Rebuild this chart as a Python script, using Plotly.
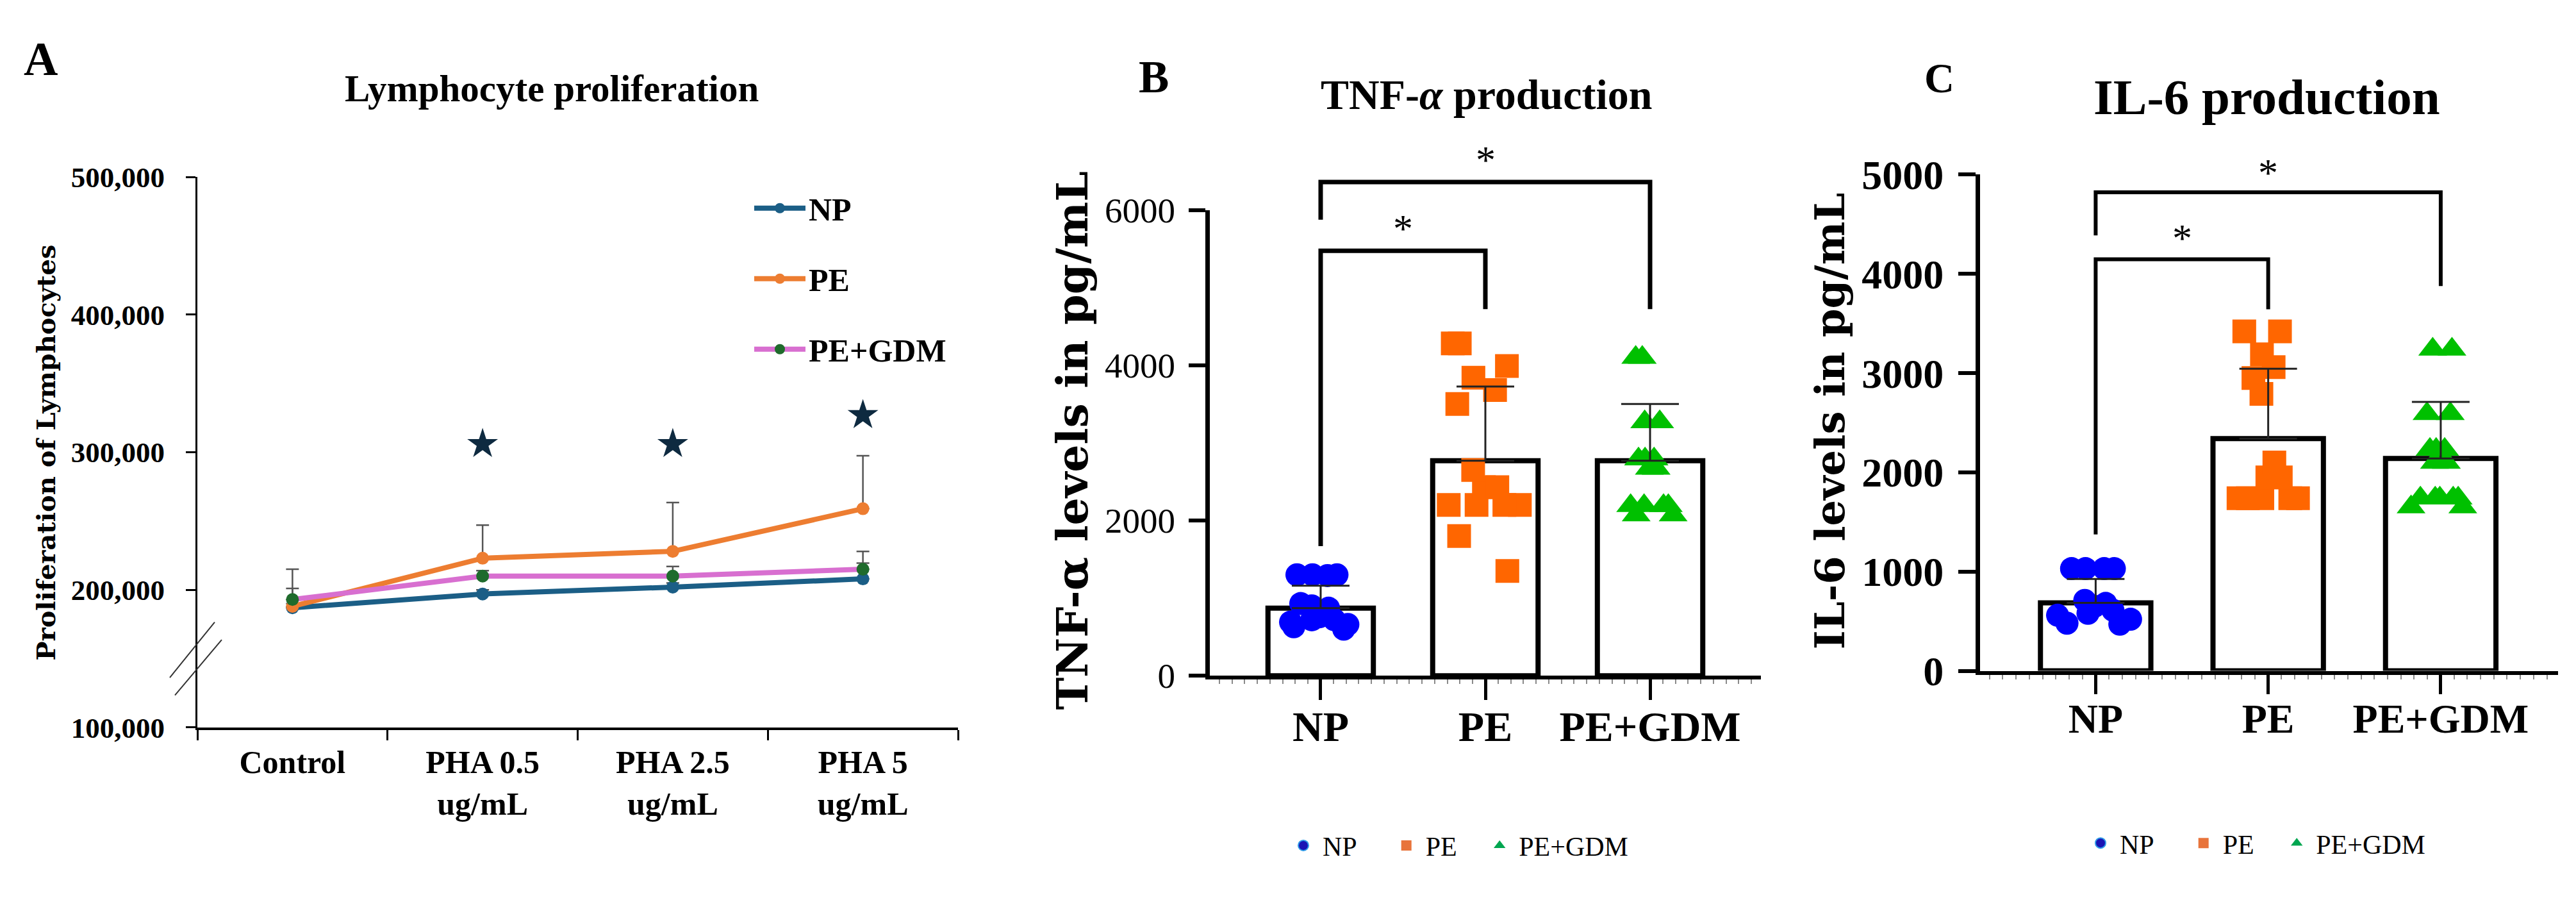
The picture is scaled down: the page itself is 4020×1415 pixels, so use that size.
import plotly.graph_objects as go

W, H = 4020, 1415
SERIF = "Liberation Serif"
WIDE = "DejaVu Serif"
NBSP = "\u00a0"

# ---------------- Panel A : lymphocyte proliferation ----------------
a_categories = ["Control", "PHA 0.5<br>ug/mL", "PHA 2.5<br>ug/mL", "PHA 5<br>ug/mL"]
a_np = [187000, 197000, 202000, 208000]
a_np_sd = [3000, 3000, 3000, 11500]
a_pe = [188000, 223000, 228000, 259000]
a_pe_sd = [27000, 24000, 35500, 38500]
a_gdm = [193000, 210000, 210000, 215000]
a_gdm_sd = [8000, 4000, 7000, 13000]
a_star_categories = ["PHA 0.5<br>ug/mL", "PHA 2.5<br>ug/mL", "PHA 5<br>ug/mL"]
a_star_values = [306000, 306000, 327000]
a_yticks = [100000, 200000, 300000, 400000, 500000]

# ---------------- Panels B and C ----------------
groups = ["NP", "PE", "PE+GDM"]

tnf_mean = [870, 2770, 2770]
tnf_sd = [290, 955, 730]
tnf_np = [1300, 1300, 1290, 1300, 930, 900, 870, 760, 720, 690, 660, 630, 600, 720]
tnf_pe = [4280, 4280, 3990, 3840, 3680, 3500, 2650, 2430, 2430, 2200, 2200, 2200, 2200, 1800, 1350]
tnf_gdm = [4100, 4100, 3270, 3270, 2790, 2790, 2790, 2670, 2670, 2190, 2190, 2190, 2190, 2070, 2070]
tnf_yticks = [0, 2000, 4000, 6000]
tnf_bracket_pairs = [(0, 1), (0, 2)]
tnf_bracket_top = [5475, 6360]
tnf_bracket_left_end = [1670, 5875]
tnf_bracket_right_end = [4722, 4722]
tnf_star_values = [5843, 6722]

il6_mean = [685, 2340, 2140]
il6_sd = [240, 705, 570]
il6_np = [1030, 1030, 1030, 1030, 710, 680, 650, 610, 580, 520, 480, 470, 560]
il6_pe = [3420, 3420, 3190, 3060, 2950, 2790, 2100, 1950, 1950, 1740, 1740, 1740, 1740, 1740]
il6_gdm = [3240, 3240, 2590, 2590, 2230, 2230, 2230, 2100, 2100, 1740, 1740, 1740, 1740, 1740, 1650, 1650]
il6_yticks = [0, 1000, 2000, 3000, 4000, 5000]
il6_bracket_pairs = [(0, 1), (0, 2)]
il6_bracket_top = [4147, 4822]
il6_bracket_left_end = [1374, 4387]
il6_bracket_right_end = [3644, 3877]
il6_star_values = [4423, 5080]

# ---------------- styling ----------------
NP_LINE = "#1b5e86"
PE_LINE = "#ed7d31"
GDM_LINE = "#d86fd0"
GDM_MARK = "#1f6b2c"
STAR = "#0e2a40"
PT_COLORS = ["#0000ff", "#ff6600", "#00c000"]
PT_SYMBOLS = ["circle", "square", "triangle-up"]
PT_SIZES = [36, 37, 39]
LEG_COLORS = ["#1a14b4", "#e8743b", "#00a650"]
LEG_PAD = [4, 3, 0]   # trailing spaces that widen the legend entries

pos = list(range(len(groups)))   # x position of each group on the B / C axes


def fx(p):
    return p / W


def fy(p):
    return 1 - p / H


fig = go.Figure()

# ---- Panel A traces
for name, vals, sd, lc, mc in [
    ("NP", a_np, a_np_sd, NP_LINE, NP_LINE),
    ("PE", a_pe, a_pe_sd, PE_LINE, PE_LINE),
    ("PE+GDM", a_gdm, a_gdm_sd, GDM_LINE, GDM_MARK),
]:
    fig.add_trace(go.Scatter(
        x=a_categories, y=vals, name=name, mode="lines+markers",
        line=dict(color=lc, width=8), marker=dict(color=mc, size=20),
        error_y=dict(type="data", array=sd, arrayminus=[0] * len(sd), symmetric=False,
                     color="#555555", thickness=2.5, width=10),
        xaxis="x", yaxis="y", legend="legend", legendgroup=name))

fig.add_trace(go.Scatter(
    x=a_star_categories, y=a_star_values, mode="markers",
    marker=dict(symbol="star", size=36, color=STAR), showlegend=False,
    xaxis="x", yaxis="y"))

annotations = []


def cytokine_panel(xa, ya, xb, yb, means, sds, pts, pairs, tops, lefts, rights, stars,
                   legend_name, bracket_w):
    fig.add_trace(go.Bar(
        x=pos, y=means, width=0.64,
        marker=dict(color="white", line=dict(color="black", width=8)),
        showlegend=False, xaxis=xa, yaxis=ya))
    for p, g, vals, sym, col, sz in zip(pos, groups, pts, PT_SYMBOLS, PT_COLORS, PT_SIZES):
        fig.add_trace(go.Box(
            y=vals, x0=p, name=g, boxpoints="all", jitter=0.9, pointpos=0, width=0.6,
            fillcolor="rgba(0,0,0,0)", line=dict(width=0, color="rgba(0,0,0,0)"),
            whiskerwidth=0, marker=dict(symbol=sym, color=col, size=sz),
            showlegend=False, hoverinfo="skip", xaxis=xa, yaxis=ya))
    fig.add_trace(go.Scatter(
        x=pos, y=means, mode="markers", marker=dict(size=1, color="rgba(0,0,0,0)"),
        error_y=dict(type="data", array=sds, arrayminus=[0] * len(sds), symmetric=False,
                     color="#222222", thickness=3, width=45),
        showlegend=False, hoverinfo="skip", xaxis=xa, yaxis=ya))
    for g, sym, col, pad in zip(groups, PT_SYMBOLS, LEG_COLORS, LEG_PAD):
        mk = dict(symbol=sym, color=col, size=16)
        if sym == "circle":
            mk["line"] = dict(color="#2f9be8", width=2)
        fig.add_trace(go.Scatter(
            x=[None], y=[None], mode="markers", name=g + NBSP * pad, marker=mk,
            legend=legend_name, xaxis=xa, yaxis=ya))
    for (i, j), top, le, re, st in zip(pairs, tops, lefts, rights, stars):
        fig.add_trace(go.Scatter(
            x=[pos[i], pos[i], pos[j], pos[j]], y=[le, top, top, re],
            mode="lines", line=dict(color="black", width=bracket_w),
            showlegend=False, hoverinfo="skip", xaxis=xb, yaxis=yb))
        annotations.append(dict(
            x=(pos[i] + pos[j]) / 2, y=st, xref=xb, yref=yb, text="*", showarrow=False,
            yshift=-9, font=dict(family=SERIF, size=62, color="black")))


cytokine_panel("x2", "y2", "x4", "y4", tnf_mean, tnf_sd, [tnf_np, tnf_pe, tnf_gdm],
               tnf_bracket_pairs, tnf_bracket_top, tnf_bracket_left_end,
               tnf_bracket_right_end, tnf_star_values, "legend2", 7)
cytokine_panel("x3", "y3", "x5", "y5", il6_mean, il6_sd, [il6_np, il6_pe, il6_gdm],
               il6_bracket_pairs, il6_bracket_top, il6_bracket_left_end,
               il6_bracket_right_end, il6_star_values, "legend3", 6)

# ---------------- geometry (px) ----------------
A_X0, A_X1, A_TOP, A_BOT = 308, 1495, 254, 1158
B_X0, B_X1, B_TOP, B_BOT, B_BR = 1888, 2748, 308, 1073, 120
C_X0, C_X1, C_TOP, C_BOT, C_BR = 3090, 3992, 250, 1065, 150
B_XR = [-0.673, 2.673]
C_XR = [-0.67, 2.68]

tnf_max = tnf_yticks[-1]
il6_max = il6_yticks[-1]

axis_common = dict(showgrid=False, zeroline=False, showline=True, linecolor="black",
                   ticks="outside", tickcolor="black")
minor_x = dict(ticks="outside", ticklen=7, tickwidth=2, tickcolor="#8a8a8a",
               tick0=0, dtick=1 / 13, showgrid=False)

layout = dict(
    width=W, height=H, margin=dict(l=0, r=0, t=0, b=0),
    paper_bgcolor="white", plot_bgcolor="rgba(0,0,0,0)",
    boxmode="overlay", barmode="overlay",
    font=dict(family=SERIF, color="black"),
    xaxis=dict(axis_common, domain=[fx(A_X0), fx(A_X1)], anchor="y", type="category",
               categoryorder="array", categoryarray=a_categories, range=[-0.5, 3.5],
               tickson="boundaries", ticklen=16, tickwidth=3, linewidth=4,
               tickfont=dict(family=SERIF, size=50, weight="bold"), ticklabelstandoff=7),
    yaxis=dict(axis_common, domain=[fy(A_BOT), fy(A_TOP)], anchor="x",
               range=[a_yticks[0], a_yticks[-1]], tickvals=a_yticks, tickformat=",d",
               ticklen=15, tickwidth=3, linewidth=3,
               tickfont=dict(family=SERIF, size=45, weight="bold"), ticklabelstandoff=24),
    xaxis2=dict(axis_common, domain=[fx(B_X0), fx(B_X1)], anchor="y2", type="linear",
                range=B_XR, tickvals=pos, ticktext=groups, minor=minor_x,
                ticklen=32, tickwidth=5, linewidth=6,
                tickfont=dict(family=SERIF, size=66, weight="bold"), ticklabelstandoff=-15),
    yaxis2=dict(axis_common, domain=[fy(B_BOT), fy(B_TOP)], anchor="x2",
                range=[0, tnf_max], tickvals=tnf_yticks, ticklen=26, tickwidth=6,
                linewidth=7, tickfont=dict(family=SERIF, size=55), ticklabelstandoff=10),
    xaxis3=dict(axis_common, domain=[fx(C_X0), fx(C_X1)], anchor="y3", type="linear",
                range=C_XR, tickvals=pos, ticktext=groups, minor=minor_x,
                ticklen=30, tickwidth=5, linewidth=6,
                tickfont=dict(family=SERIF, size=64, weight="bold"), ticklabelstandoff=-16),
    yaxis3=dict(axis_common, domain=[fy(C_BOT), fy(C_TOP)], anchor="x3",
                range=[0, il6_max], tickvals=il6_yticks, ticklen=27, tickwidth=6,
                linewidth=7, tickfont=dict(family=SERIF, size=64, weight="bold"),
                ticklabelstandoff=10),
    xaxis4=dict(domain=[fx(B_X0), fx(B_X1)], anchor="y4", type="linear", range=B_XR,
                visible=False),
    yaxis4=dict(domain=[fy(B_BOT), fy(B_BR)], anchor="x4",
                range=[0, tnf_max * (B_BOT - B_BR) / (B_BOT - B_TOP)], visible=False),
    xaxis5=dict(domain=[fx(C_X0), fx(C_X1)], anchor="y5", type="linear", range=C_XR,
                visible=False),
    yaxis5=dict(domain=[fy(C_BOT), fy(C_BR)], anchor="x5",
                range=[0, il6_max * (C_BOT - C_BR) / (C_BOT - C_TOP)], visible=False),
    legend=dict(x=fx(1172), y=fy(264), xanchor="left", yanchor="top",
                font=dict(family=SERIF, size=50, weight="bold"), tracegroupgap=42,
                itemwidth=80, bgcolor="rgba(0,0,0,0)"),
    legend2=dict(orientation="h", x=fx(2004), y=fy(1352), xanchor="left",
                 yanchor="middle", font=dict(family=SERIF, size=42),
                 itemwidth=50, bgcolor="rgba(0,0,0,0)"),
    legend3=dict(orientation="h", x=fx(3248), y=fy(1348), xanchor="left",
                 yanchor="middle", font=dict(family=SERIF, size=42),
                 itemwidth=50, bgcolor="rgba(0,0,0,0)"),
)

# panel letters, titles, axis titles
texts = [
    ("A", 64, 60, 74, SERIF, "bold", 0),
    ("B", 1800, 90, 71, SERIF, "bold", 0),
    ("C", 3026, 92, 65, SERIF, "bold", 0),
    ("Lymphocyte proliferation", 861, 108, 59, SERIF, "bold", 0),
    ("TNF-<i>α</i> production", 2320, 118, 66, SERIF, "bold", 0),
    ("IL-6 production", 3537, 123, 79, SERIF, "bold", 0),
    ("Proliferation of Lymphocytes", 72, 707, 40, WIDE, "bold", -90),
    ("TNF-α levels in pg/mL", 1673, 687, 68, WIDE, "bold", -90),
    ("IL-6 levels in pg/mL", 2855, 655, 64, WIDE, "bold", -90),
]
for t, xp, yp, sz, fam, wt, ang in texts:
    annotations.append(dict(
        text=t, x=fx(xp), y=fy(yp), xref="paper", yref="paper", showarrow=False,
        xanchor="center", yanchor="middle", textangle=ang,
        font=dict(family=fam, size=sz, weight=wt, color="black")))

layout["annotations"] = annotations

# axis-break marks on panel A's y axis
layout["shapes"] = [
    dict(type="line", xref="paper", yref="paper", x0=fx(265), y0=fy(1076), x1=fx(335),
         y1=fy(985), line=dict(color="#333333", width=2)),
    dict(type="line", xref="paper", yref="paper", x0=fx(273), y0=fy(1105), x1=fx(346),
         y1=fy(1014), line=dict(color="#333333", width=2)),
]

fig.update_layout(layout)

fig.write_html("out.html", include_plotlyjs=True, config={"displayModeBar": False},
               post_script="document.body.style.margin='0';document.body.style.overflow='hidden';")
